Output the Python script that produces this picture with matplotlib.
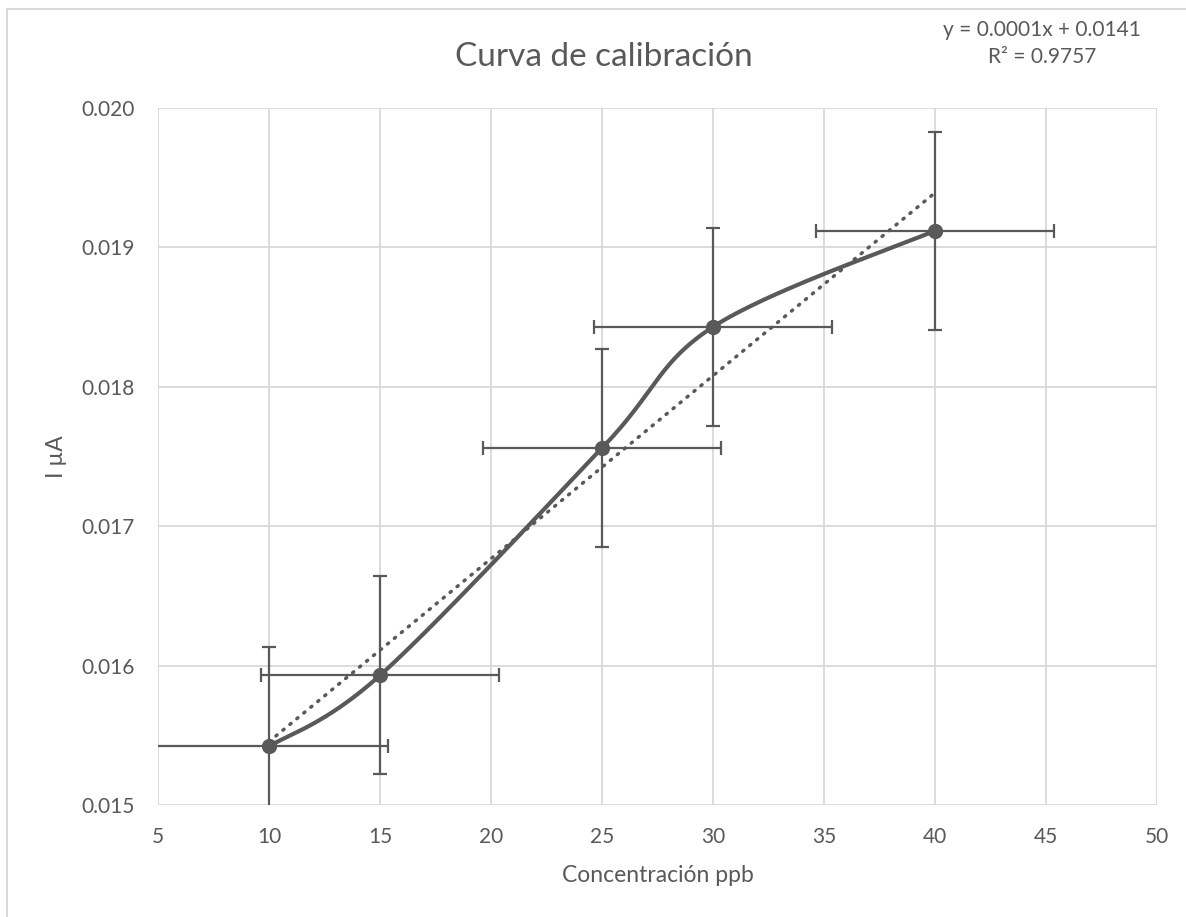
import numpy as np
import matplotlib
matplotlib.use("Agg")
import matplotlib.pyplot as plt
from matplotlib.patches import Rectangle

plt.rcParams['font.family'] = ['Lato', 'DejaVu Sans']

# calibration data
conc = np.array([10, 15, 25, 30, 40])
current = np.array([0.01542, 0.01593, 0.01756, 0.01843, 0.01912])
conc_err = np.array([5.35, 5.35, 5.35, 5.35, 5.35])
current_err = np.array([0.00071, 0.00071, 0.00071, 0.00071, 0.00071])

x_ticks = [5, 10, 15, 20, 25, 30, 35, 40, 45, 50]
y_ticks = [0.015, 0.016, 0.017, 0.018, 0.019, 0.020]

gray = '#595959'
grid = '#d9d9d9'


# smooth curve through the points (bezier with neighbour-based control points)
def smooth(x, y, n=60):
    px = np.concatenate([[x[0]], x, [x[-1]]])
    py = np.concatenate([[y[0]], y, [y[-1]]])
    xs, ys = [], []
    t = np.linspace(0, 1, n)
    for i in range(1, len(px) - 2):
        p0 = np.array([px[i], py[i]])
        p3 = np.array([px[i + 1], py[i + 1]])
        c1 = p0 + (np.array([px[i + 1], py[i + 1]]) - np.array([px[i - 1], py[i - 1]])) / 6
        c2 = p3 - (np.array([px[i + 2], py[i + 2]]) - np.array([px[i], py[i]])) / 6
        b = ((1 - t) ** 3)[:, None] * p0 + (3 * (1 - t) ** 2 * t)[:, None] * c1 \
            + (3 * (1 - t) * t ** 2)[:, None] * c2 + (t ** 3)[:, None] * p3
        xs.extend(b[:, 0])
        ys.extend(b[:, 1])
    return np.array(xs), np.array(ys)


fig = plt.figure(figsize=(11.86, 9.17), dpi=100)
ax = fig.add_axes([158 / 1186, 1 - 805 / 917, (1157 - 158) / 1186, (805 - 108) / 917])

# chart border
fig.patches.append(Rectangle((7 / 1186, -0.1), 1.2, 1 - 9 / 917 + 0.1, transform=fig.transFigure,
                             fill=False, edgecolor=grid, linewidth=1.5))

sx, sy = smooth(conc, current)
ax.plot(sx, sy, color=gray, linewidth=3, solid_capstyle='round', zorder=3)

# linear trendline
slope, intercept = np.polyfit(conc, current, 1)
tx = np.array([conc.min(), conc.max()])
ax.plot(tx, slope * tx + intercept, color=gray, linewidth=2.5, linestyle=(0, (0.4, 2.2)),
        dash_capstyle='round', zorder=2)

ax.errorbar(conc, current, xerr=conc_err, yerr=current_err, fmt='o', color=gray,
            markersize=10, elinewidth=1.6, capsize=5, capthick=1.6, zorder=4)

ax.set_xlim(5, 50)
ax.set_ylim(0.015, 0.020)
ax.set_xticks(x_ticks)
ax.set_yticks(y_ticks)
ax.set_yticklabels([f'{v:.3f}' for v in y_ticks])
ax.grid(True, color=grid, linewidth=1.3)
ax.set_axisbelow(True)
for s in ax.spines.values():
    s.set_visible(False)
ax.tick_params(length=0, labelsize=15, labelcolor=gray)
ax.tick_params(axis='x', pad=16)
ax.tick_params(axis='y', pad=17)

ax.set_xlabel('Concentración ppb', fontsize=16.5, color=gray, labelpad=13)
ax.set_ylabel('I µA', fontsize=16.5, color=gray)
ax.yaxis.set_label_coords(-0.091, 0.5)

fig.text(604 / 1186, 1 - 57 / 917, 'Curva de calibración', fontsize=24, color=gray,
         ha='center', va='center')
fig.text(1042 / 1186, 1 - 30 / 917, 'y = 0.0001x + 0.0141', fontsize=15, color=gray,
         ha='center', va='center')
fig.text(1042 / 1186, 1 - 57 / 917, 'R² = 0.9757', fontsize=15, color=gray,
         ha='center', va='center')

fig.savefig('out.png', dpi=100)
